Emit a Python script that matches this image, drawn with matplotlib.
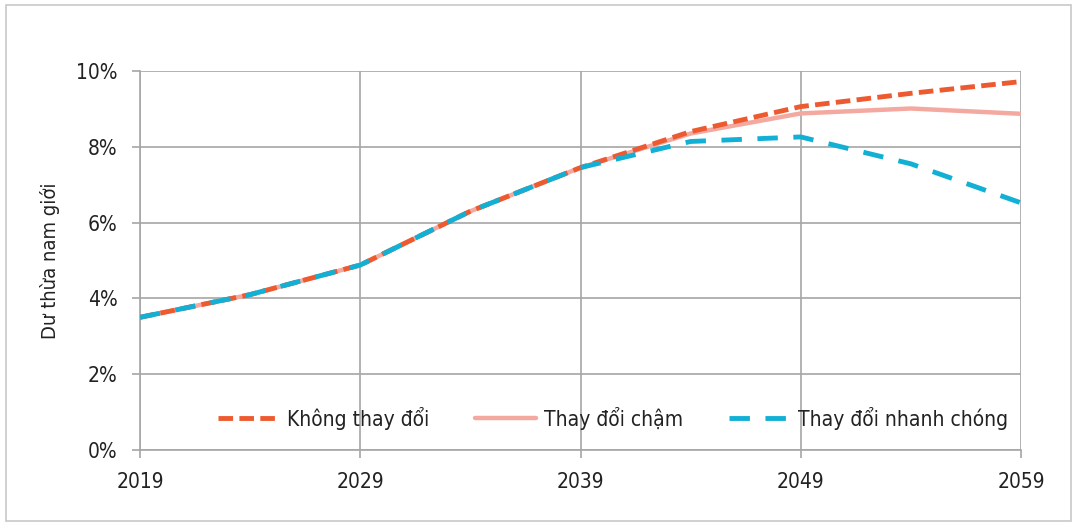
import matplotlib
matplotlib.use("Agg")
import matplotlib.pyplot as plt
from matplotlib.patches import Rectangle
from matplotlib.ticker import FuncFormatter

plt.rcParams['font.family'] = ['DejaVu Sans']
plt.rcParams['font.stretch'] = 'condensed'

years = [2019, 2024, 2029, 2034, 2039, 2044, 2049, 2054, 2059]
khong_thay_doi = [3.5, 4.1, 4.88, 6.3, 7.45, 8.4, 9.06, 9.41, 9.72]
thay_doi_cham = [3.5, 4.1, 4.88, 6.3, 7.45, 8.35, 8.88, 9.01, 8.87]
thay_doi_nhanh = [3.5, 4.1, 4.88, 6.3, 7.45, 8.14, 8.26, 7.55, 6.52]

series_labels = ["Không thay đổi", "Thay đổi chậm", "Thay đổi nhanh chóng"]
y_label = "Dư thừa nam giới"
x_ticks = [2019, 2029, 2039, 2049, 2059]
y_ticks = [0, 2, 4, 6, 8, 10]

grid_col = "#A6A6A6"

fig = plt.figure(figsize=(10.77, 5.25), dpi=100)
ax = fig.add_axes([0.130, 0.1429, 0.818, 0.7219])

ax.plot(years, thay_doi_cham, color="#F4A9A0", lw=3.2, solid_capstyle="round",
        label=series_labels[1], zorder=3)
ax.plot(years, khong_thay_doi, color="#EE5A30", lw=3.5, dashes=(3.0, 1.3),
        label=series_labels[0], zorder=4)
ax.plot(years, thay_doi_nhanh, color="#12B0D5", lw=3.5, dashes=(4.2, 3.2),
        label=series_labels[2], zorder=5)

ax.set_xlim(2019, 2059)
ax.set_ylim(0, 10)
ax.set_xticks(x_ticks)
ax.set_yticks(y_ticks)
ax.yaxis.set_major_formatter(FuncFormatter(lambda v, p: f"{int(v)}%"))
ax.grid(True, color=grid_col, lw=1.2)
ax.set_axisbelow(True)
for side in ["top", "right"]:
    ax.spines[side].set_visible(False)
for side in ["left", "bottom"]:
    ax.spines[side].set_color(grid_col)
    ax.spines[side].set_linewidth(1.2)
ax.tick_params(axis="both", colors=grid_col, length=6, width=1.2,
               labelcolor="#222222", labelsize=15)
ax.tick_params(axis="x", pad=10)
ax.tick_params(axis="y", pad=10)

ax.set_ylabel(y_label, fontsize=14.5, color="#222222", labelpad=12)

handles, labels = ax.get_legend_handles_labels()
order = [1, 0, 2]
leg = ax.legend([handles[i] for i in order], [labels[i] for i in order],
                loc="center right", bbox_to_anchor=(0.985, 0.084), ncol=3,
                frameon=False, fontsize=15, handlelength=2.9,
                columnspacing=2.2, handletextpad=0.4,
                borderpad=0, borderaxespad=0)
for t in leg.get_texts():
    t.set_color("#222222")

fig.patches.append(Rectangle((0.006, 0.008), 0.988, 0.982, transform=fig.transFigure,
                             fill=False, edgecolor="#C8C8C8", lw=1.2))

fig.savefig("out.png", dpi=100)
